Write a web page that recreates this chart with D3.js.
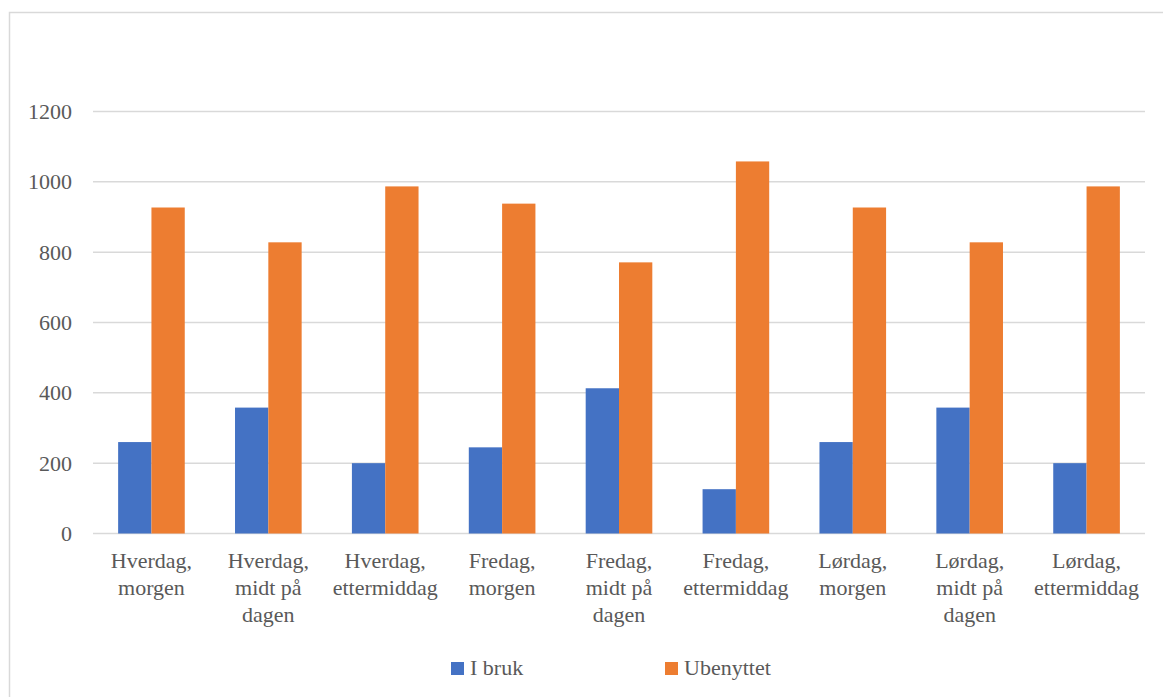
<!DOCTYPE html>
<html>
<head>
<meta charset="utf-8">
<script src="https://cdn.jsdelivr.net/npm/d3@7"></script>
<style>
  body { margin: 0; background: #fff; }
</style>
</head>
<body>
<div id="chart"></div>
<script>
'use strict';

const categories = [
    ['Hverdag,', 'morgen'],
    ['Hverdag,', 'midt på', 'dagen'],
    ['Hverdag,', 'ettermiddag'],
    ['Fredag,', 'morgen'],
    ['Fredag,', 'midt på', 'dagen'],
    ['Fredag,', 'ettermiddag'],
    ['Lørdag,', 'morgen'],
    ['Lørdag,', 'midt på', 'dagen'],
    ['Lørdag,', 'ettermiddag']
];
const seriesNames = ['I bruk', 'Ubenyttet'];
const iBruk = [260, 358, 200, 245, 413, 126, 260, 358, 200];
const ubenyttet = [927, 828, 987, 938, 771, 1058, 927, 828, 987];
const yTicks = [0, 200, 400, 600, 800, 1000, 1200];
const colors = ['#4472C4', '#ED7D31'];

const width = 1163, height = 697;
const plot = { left: 93, right: 1145, top: 111.5, bottom: 533.5 };
const serif = '"Liberation Serif"';
const fontSize = '22px';

const svg = d3.select('#chart')
    .append('svg')
    .attr('width', width)
    .attr('height', height);

// outer chart border
svg.append('rect')
    .attr('x', 9.5).attr('y', 12.5)
    .attr('width', width + 10).attr('height', height)
    .attr('fill', 'none')
    .attr('stroke', '#d9d9d9')
    .attr('stroke-width', 1.5);

const ids = categories.map((d, i) => i);
const x = d3.scaleBand().domain(ids).range([plot.left, plot.right]).paddingInner(0.43).paddingOuter(0.215);
const x1 = d3.scaleBand().domain([0, 1]).range([0, x.bandwidth()]);
const y = d3.scaleLinear().domain([0, 1200]).range([plot.bottom, plot.top]);

// grid lines
svg.append('g')
    .selectAll('line')
    .data(yTicks)
    .join('line')
    .attr('x1', plot.left).attr('x2', plot.right)
    .attr('y1', d => y(d)).attr('y2', d => y(d))
    .attr('stroke', '#d9d9d9')
    .attr('stroke-width', 1.5);

// y axis labels
const yAxis = svg.append('g')
    .attr('transform', `translate(${plot.left - 21},0)`)
    .call(d3.axisLeft(y).tickValues(yTicks).tickFormat(d3.format('d')).tickSize(0).tickPadding(0))
    .attr('font-family', null)
    .attr('font-size', null);
yAxis.select('.domain').remove();
yAxis.selectAll('text')
    .attr('fill', '#595959')
    .style('font-family', serif)
    .style('font-size', fontSize);

const series = [iBruk, ubenyttet];
const groups = svg.append('g')
    .selectAll('g')
    .data(ids)
    .join('g')
    .attr('transform', d => `translate(${x(d)},0)`);

groups.selectAll('rect')
    .data(i => series.map((s, k) => ({ k, v: s[i] })))
    .join('rect')
    .attr('x', d => x1(d.k))
    .attr('width', x1.bandwidth())
    .attr('y', d => y(d.v))
    .attr('height', d => y(0) - y(d.v))
    .attr('fill', d => colors[d.k]);

// x axis category labels
const labels = svg.append('g')
    .selectAll('text')
    .data(ids)
    .join('text')
    .attr('x', d => x(d) + x.bandwidth() / 2)
    .attr('y', 568)
    .attr('text-anchor', 'middle')
    .attr('fill', '#595959')
    .style('font-family', serif)
    .style('font-size', fontSize);
labels.selectAll('tspan')
    .data(d => categories[d])
    .join('tspan')
    .attr('x', function () { return d3.select(this.parentNode).attr('x'); })
    .attr('dy', (d, i) => i === 0 ? 0 : 27)
    .text(d => d);

// legend
const legendX = [451, 665];
const legend = svg.append('g')
    .selectAll('g')
    .data(seriesNames)
    .join('g')
    .attr('transform', (d, i) => `translate(${legendX[i]},662)`);
legend.append('rect')
    .attr('width', 13).attr('height', 13)
    .attr('fill', (d, i) => colors[i]);
legend.append('text')
    .attr('x', 19).attr('y', 13)
    .attr('fill', '#595959')
    .style('font-family', serif)
    .style('font-size', fontSize)
    .text(d => d);
</script>
</body>
</html>
